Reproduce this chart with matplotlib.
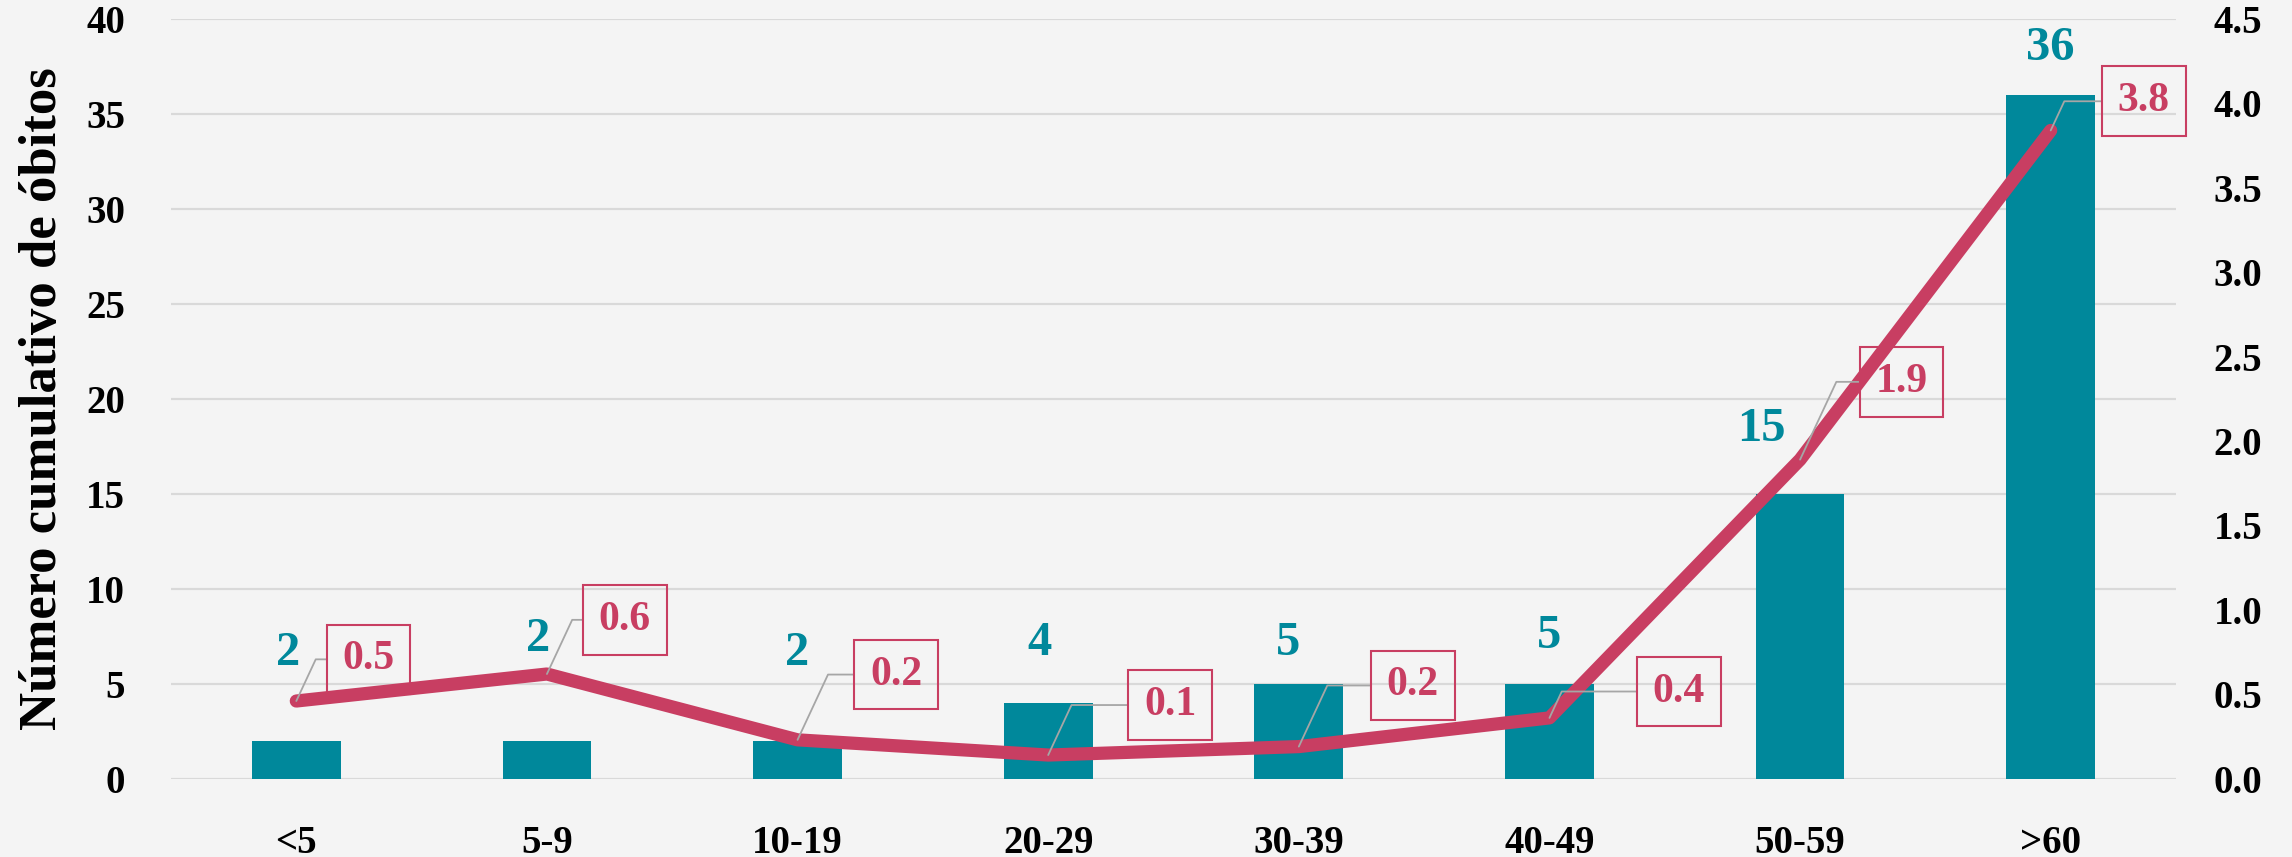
import matplotlib
matplotlib.use("Agg")
import matplotlib.pyplot as plt

# data
categories = ["<5", "5-9", "10-19", "20-29", "30-39", "40-49", "50-59", ">60"]
deaths = [2, 2, 2, 4, 5, 5, 15, 36]
rate = [0.46, 0.62, 0.23, 0.14, 0.19, 0.36, 1.89, 3.84]
left_ticks = [0, 5, 10, 15, 20, 25, 30, 35, 40]
right_ticks = [0.0, 0.5, 1.0, 1.5, 2.0, 2.5, 3.0, 3.5, 4.0, 4.5]

TEAL = "#00889b"
RED = "#c83e62"
BG = "#f4f4f4"

plt.rcParams['font.family'] = ['Liberation Serif', 'DejaVu Serif']
plt.rcParams['font.weight'] = 'bold'

fig = plt.figure(figsize=(22.92, 8.57), dpi=100, facecolor=BG)
ax = fig.add_axes([0.0746, 0.0914, 0.8748, 0.8864])
ax.set_facecolor(BG)
ax2 = ax.twinx()

x = list(range(len(categories)))
ax.bar(x, deaths, width=0.354, color=TEAL, zorder=2)

ax.set_xlim(-0.5, len(categories) - 0.5)
ax.set_ylim(0, 40)
ax2.set_ylim(0, 4.5)
ax.set_yticks(left_ticks)
ax2.set_yticks(right_ticks)
ax2.set_yticklabels([f"{v:.1f}" for v in right_ticks])
ax.set_xticks(x)
ax.set_xticklabels(categories)

ax.grid(axis='y', color='#d9d9d9', lw=1.6, zorder=0)
ax.set_axisbelow(True)
for a in (ax, ax2):
    for s in a.spines.values():
        s.set_visible(False)
ax.tick_params(axis='y', length=0, pad=33, labelsize=28)
ax.tick_params(axis='x', length=0, pad=33, labelsize=28)
ax2.tick_params(axis='y', length=0, pad=27, labelsize=28)

ax.set_ylabel("Número cumulativo de óbitos", fontsize=38, fontweight='bold', labelpad=14)

# bar value labels (offsets in points, as placed in the original)
bar_offsets = [(-6, 63), (-6, 73), (0, 63), (-6, 43), (-8, 29), (0, 34), (-28, 47), (0, 34)]
for xi, v, off in zip(x, deaths, bar_offsets):
    ax.annotate(str(v), (xi, v), xytext=off, textcoords='offset points',
                ha='center', va='center', color=TEAL, fontsize=35, fontweight='bold')

# line
ax2.plot(x, rate, color=RED, lw=9.5, solid_capstyle='round', solid_joinstyle='round', zorder=3)

line_offsets = [(52, 30), (56, 39), (71, 47), (88, 36), (82, 44), (93, 19), (73, 56), (67, 21)]
for xi, v, off in zip(x, rate, line_offsets):
    ax2.annotate(f"{v:.1f}", (xi, v), xytext=off, textcoords='offset points',
                 ha='center', va='center', color=RED, fontsize=30, fontweight='bold',
                 bbox=dict(boxstyle='square,pad=0.38', fc='none', ec=RED, lw=1.5),
                 arrowprops=dict(arrowstyle='-', color='#a6a6a6', lw=1.3, relpos=(0, 0.5),
                                 shrinkA=0, shrinkB=0,
                                 connectionstyle='angle,angleA=0,angleB=65,rad=0'),
                 zorder=4)

fig.savefig("out.png", dpi=100, facecolor=BG)
